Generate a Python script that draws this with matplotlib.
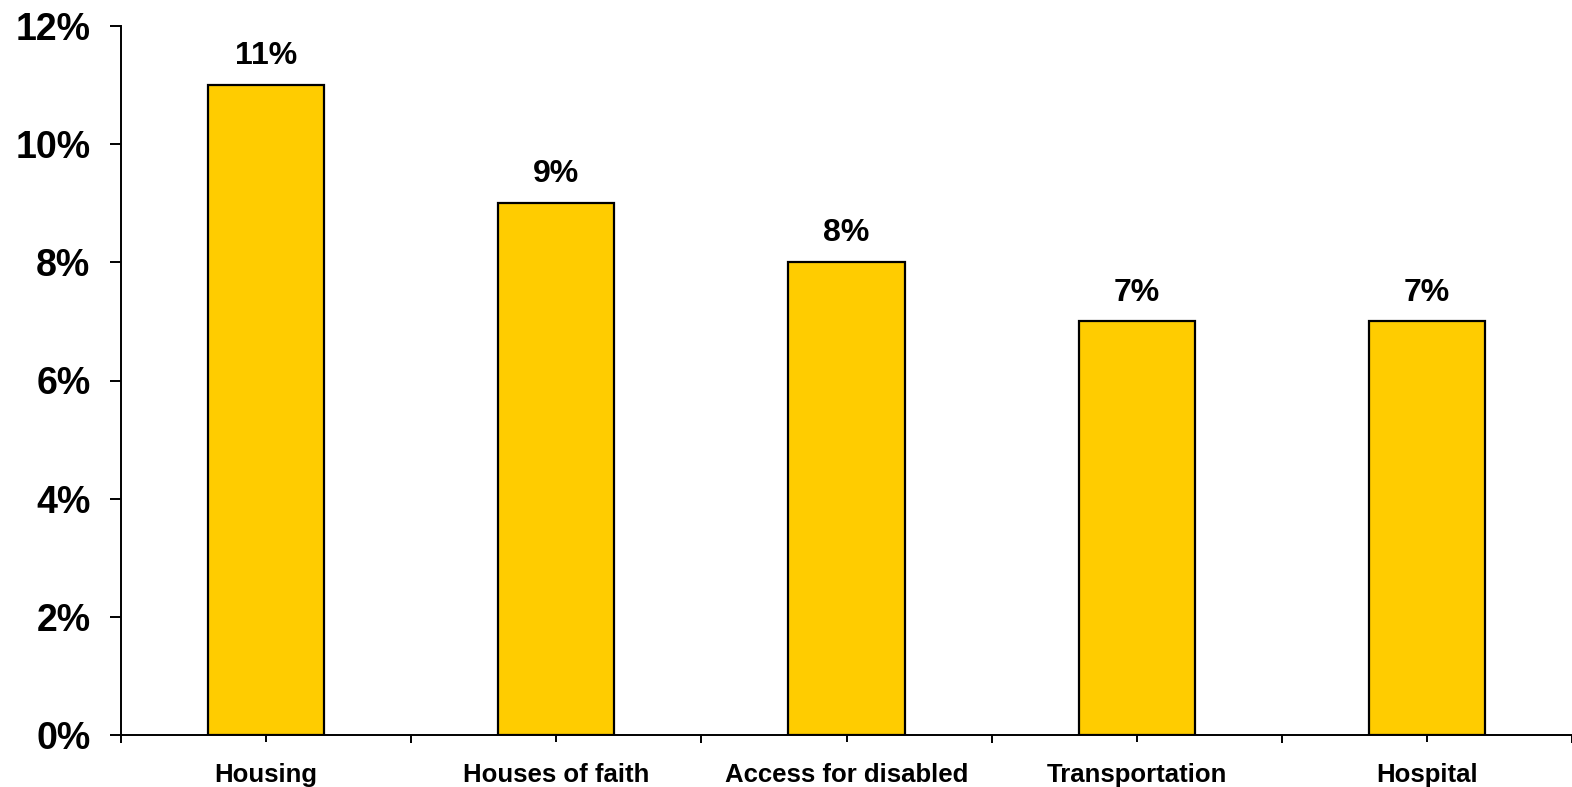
import matplotlib
matplotlib.use("Agg")
import matplotlib.pyplot as plt
from matplotlib.ticker import FixedLocator

categories = ["Housing", "Houses of faith", "Access for disabled", "Transportation", "Hospital"]
values = [11, 9, 8, 7, 7]
y_ticks = [0, 2, 4, 6, 8, 10, 12]
y_tick_labels = [f"{t}%" for t in y_ticks]

plt.rcParams["font.family"] = ["Liberation Sans", "DejaVu Sans"]
plt.rcParams["font.weight"] = "bold"

fig = plt.figure(figsize=(15.72, 7.87), dpi=100)
ax = fig.add_axes([121 / 1572, 1 - 735 / 787, 1 - 121 / 1572, (735 - 26) / 787])

x = list(range(len(categories)))
bars = ax.bar(x, values, width=0.40, color="#FFCC00", edgecolor="black", linewidth=1.6, zorder=3)

for xi, v in zip(x, values):
    ax.annotate(f"{v}%", (xi, v), xytext=(0, 10), textcoords="offset points",
                ha="center", va="bottom", fontsize=23, fontweight="bold")

ax.set_xlim(-0.5, len(categories) - 0.5)
ax.set_ylim(0, 12)
ax.set_yticks(y_ticks)
ax.set_yticklabels(y_tick_labels, fontsize=27, fontweight="bold")
ax.set_xticks(x)
ax.set_xticklabels(categories, fontsize=18.5, fontweight="bold")
ax.xaxis.set_minor_locator(FixedLocator([i - 0.5 for i in range(len(categories) + 1)]))

ax.tick_params(axis="y", direction="out", length=8, width=1.4, pad=14)
ax.tick_params(axis="x", which="major", direction="out", length=5, width=1.4, pad=15)
ax.tick_params(axis="x", which="minor", direction="out", length=6, width=1.4)

for side in ("top", "right"):
    ax.spines[side].set_visible(False)
for side in ("left", "bottom"):
    ax.spines[side].set_linewidth(1.4)

fig.savefig("out.png", dpi=100)
